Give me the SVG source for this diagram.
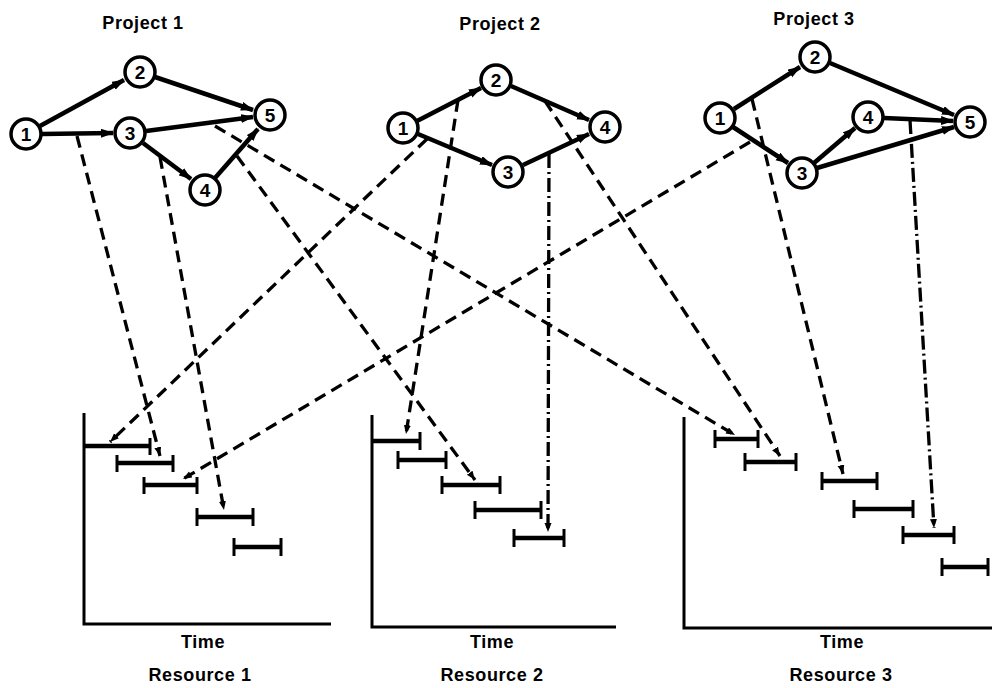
<svg xmlns="http://www.w3.org/2000/svg" width="992" height="688" viewBox="0 0 992 688">
<defs>
<marker id="ah" markerUnits="userSpaceOnUse" markerWidth="13" markerHeight="10" refX="12" refY="4.5" orient="auto">
<path d="M0,0 L13,4.5 L0,9 z" fill="#000"/>
</marker>
<marker id="dh" markerUnits="userSpaceOnUse" markerWidth="10" markerHeight="8" refX="9" refY="3.5" orient="auto">
<path d="M0,0 L9,3.5 L0,7 z" fill="#000"/>
</marker>
</defs>
<style>
.n circle{fill:#fff;stroke:#000;stroke-width:3.5}
text{font-family:"Liberation Sans",Arial,sans-serif;font-weight:bold;fill:#000;text-anchor:middle}
.n text{font-size:19px}
.t{font-size:18px;letter-spacing:0.6px}
.e{stroke:#000;stroke-width:4.5;fill:none;marker-end:url(#ah)}
.d{stroke:#000;stroke-width:3.3;stroke-dasharray:12 7;fill:none;marker-end:url(#dh)}
.dd{stroke-dasharray:14 4 2 4}
.ax{stroke:#000;stroke-width:3;fill:none}
.b line{stroke:#000}
.b .h{stroke-width:4.5}
.b .k{stroke-width:3}
</style>

<!-- titles -->
<g id="titles">
<text class="t" x="143" y="29">Project 1</text>
<text class="t" x="500" y="30">Project 2</text>
<text class="t" x="814" y="25">Project 3</text>
<text class="t" x="203" y="648">Time</text>
<text class="t" x="200" y="681">Resource 1</text>
<text class="t" x="492" y="648">Time</text>
<text class="t" x="492" y="681">Resource 2</text>
<text class="t" x="842" y="648">Time</text>
<text class="t" x="841" y="681">Resource 3</text>
</g>

<!-- axes -->
<g id="axes">
<path class="ax" d="M84,413 V624 H331"/>
<path class="ax" d="M372,415 V627 H616"/>
<path class="ax" d="M684,417 V628 H992"/>
</g>

<!-- connectors -->
<g id="connectors">
<!-- project 1 edges -->
<line class="e" x1="40" y1="126" x2="124" y2="80"/>
<line class="e" x1="42" y1="134" x2="113" y2="133"/>
<line class="e" x1="155" y1="77" x2="253" y2="110"/>
<line class="e" x1="146" y1="131" x2="253" y2="117"/>
<line class="e" x1="143" y1="143" x2="191" y2="179"/>
<line class="e" x1="215" y1="178" x2="258" y2="129"/>
<!-- project 2 edges -->
<line class="e" x1="417" y1="121" x2="481" y2="88"/>
<line class="e" x1="418" y1="134" x2="492" y2="165"/>
<line class="e" x1="511" y1="86" x2="589" y2="120"/>
<line class="e" x1="523" y1="165" x2="589" y2="134"/>
<!-- project 3 edges -->
<line class="e" x1="734" y1="109" x2="800" y2="67"/>
<line class="e" x1="733" y1="127" x2="788" y2="163"/>
<line class="e" x1="830" y1="63" x2="954" y2="115"/>
<line class="e" x1="814" y1="163" x2="855" y2="128"/>
<line class="e" x1="884" y1="118" x2="953" y2="121"/>
<line class="e" x1="817" y1="168" x2="954" y2="127"/>
<!-- assignment links -->
<line class="d" x1="77" y1="136" x2="160" y2="456"/>
<line class="d" x1="160" y1="157" x2="224" y2="510"/>
<line class="d" x1="215" y1="126" x2="735" y2="435"/>
<line class="d" x1="237" y1="156" x2="475" y2="480"/>
<line class="d" x1="427" y1="139" x2="110" y2="442"/>
<line class="d" x1="458" y1="100" x2="406" y2="434"/>
<line class="d" x1="545" y1="101" x2="780" y2="456"/>
<line class="d dd" x1="549" y1="154" x2="548" y2="532"/>
<line class="d" x1="750" y1="142" x2="183" y2="479"/>
<line class="d" x1="752" y1="99" x2="843" y2="474"/>
<line class="d dd" x1="910" y1="120" x2="934" y2="528"/>
</g>

<!-- project 1 nodes -->
<g id="p1n1" class="n"><circle cx="26" cy="134" r="15"/><text x="26" y="141">1</text></g>
<g id="p1n2" class="n"><circle cx="140" cy="72" r="15"/><text x="140" y="79">2</text></g>
<g id="p1n3" class="n"><circle cx="130" cy="133" r="15"/><text x="130" y="140">3</text></g>
<g id="p1n4" class="n"><circle cx="205" cy="190" r="15"/><text x="205" y="197">4</text></g>
<g id="p1n5" class="n"><circle cx="270" cy="115" r="15"/><text x="270" y="122">5</text></g>
<!-- project 2 nodes -->
<g id="p2n1" class="n"><circle cx="403" cy="128" r="15"/><text x="403" y="135">1</text></g>
<g id="p2n2" class="n"><circle cx="496" cy="80" r="15"/><text x="496" y="87">2</text></g>
<g id="p2n3" class="n"><circle cx="508" cy="172" r="15"/><text x="508" y="179">3</text></g>
<g id="p2n4" class="n"><circle cx="605" cy="127" r="15"/><text x="605" y="134">4</text></g>
<!-- project 3 nodes -->
<g id="p3n1" class="n"><circle cx="720" cy="118" r="15"/><text x="720" y="125">1</text></g>
<g id="p3n2" class="n"><circle cx="815" cy="57" r="15"/><text x="815" y="64">2</text></g>
<g id="p3n3" class="n"><circle cx="802" cy="173" r="15"/><text x="802" y="180">3</text></g>
<g id="p3n4" class="n"><circle cx="868" cy="117" r="15"/><text x="868" y="124">4</text></g>
<g id="p3n5" class="n"><circle cx="970" cy="122" r="15"/><text x="970" y="129">5</text></g>

<!-- resource 1 bars -->
<g id="r1b1" class="b"><line class="h" x1="84" y1="446" x2="150" y2="446"/><line class="k" x1="150" y1="438" x2="150" y2="455"/></g>
<g id="r1b2" class="b"><line class="h" x1="117" y1="463" x2="173" y2="463"/><line class="k" x1="117" y1="455" x2="117" y2="472"/><line class="k" x1="173" y1="455" x2="173" y2="472"/></g>
<g id="r1b3" class="b"><line class="h" x1="144" y1="485" x2="197" y2="485"/><line class="k" x1="144" y1="477" x2="144" y2="494"/><line class="k" x1="197" y1="477" x2="197" y2="494"/></g>
<g id="r1b4" class="b"><line class="h" x1="197" y1="517" x2="253" y2="517"/><line class="k" x1="197" y1="508" x2="197" y2="526"/><line class="k" x1="253" y1="508" x2="253" y2="526"/></g>
<g id="r1b5" class="b"><line class="h" x1="234" y1="547" x2="281" y2="547"/><line class="k" x1="234" y1="538" x2="234" y2="556"/><line class="k" x1="281" y1="538" x2="281" y2="556"/></g>
<!-- resource 2 bars -->
<g id="r2b1" class="b"><line class="h" x1="372" y1="441" x2="420" y2="441"/><line class="k" x1="420" y1="432" x2="420" y2="450"/></g>
<g id="r2b2" class="b"><line class="h" x1="398" y1="460" x2="446" y2="460"/><line class="k" x1="398" y1="451" x2="398" y2="469"/><line class="k" x1="446" y1="451" x2="446" y2="469"/></g>
<g id="r2b3" class="b"><line class="h" x1="442" y1="485" x2="500" y2="485"/><line class="k" x1="442" y1="476" x2="442" y2="494"/><line class="k" x1="500" y1="476" x2="500" y2="494"/></g>
<g id="r2b4" class="b"><line class="h" x1="475" y1="510" x2="541" y2="510"/><line class="k" x1="475" y1="501" x2="475" y2="519"/><line class="k" x1="541" y1="501" x2="541" y2="519"/></g>
<g id="r2b5" class="b"><line class="h" x1="514" y1="538" x2="564" y2="538"/><line class="k" x1="514" y1="529" x2="514" y2="547"/><line class="k" x1="564" y1="529" x2="564" y2="547"/></g>
<!-- resource 3 bars -->
<g id="r3b1" class="b"><line class="h" x1="715" y1="439" x2="758" y2="439"/><line class="k" x1="715" y1="430" x2="715" y2="448"/><line class="k" x1="758" y1="430" x2="758" y2="448"/></g>
<g id="r3b2" class="b"><line class="h" x1="745" y1="462" x2="796" y2="462"/><line class="k" x1="745" y1="453" x2="745" y2="471"/><line class="k" x1="796" y1="453" x2="796" y2="471"/></g>
<g id="r3b3" class="b"><line class="h" x1="822" y1="481" x2="877" y2="481"/><line class="k" x1="822" y1="472" x2="822" y2="490"/><line class="k" x1="877" y1="472" x2="877" y2="490"/></g>
<g id="r3b4" class="b"><line class="h" x1="854" y1="509" x2="913" y2="509"/><line class="k" x1="854" y1="500" x2="854" y2="518"/><line class="k" x1="913" y1="500" x2="913" y2="518"/></g>
<g id="r3b5" class="b"><line class="h" x1="903" y1="535" x2="954" y2="535"/><line class="k" x1="903" y1="526" x2="903" y2="544"/><line class="k" x1="954" y1="526" x2="954" y2="544"/></g>
<g id="r3b6" class="b"><line class="h" x1="942" y1="567" x2="988" y2="567"/><line class="k" x1="942" y1="558" x2="942" y2="576"/><line class="k" x1="988" y1="558" x2="988" y2="576"/></g>
</svg>
